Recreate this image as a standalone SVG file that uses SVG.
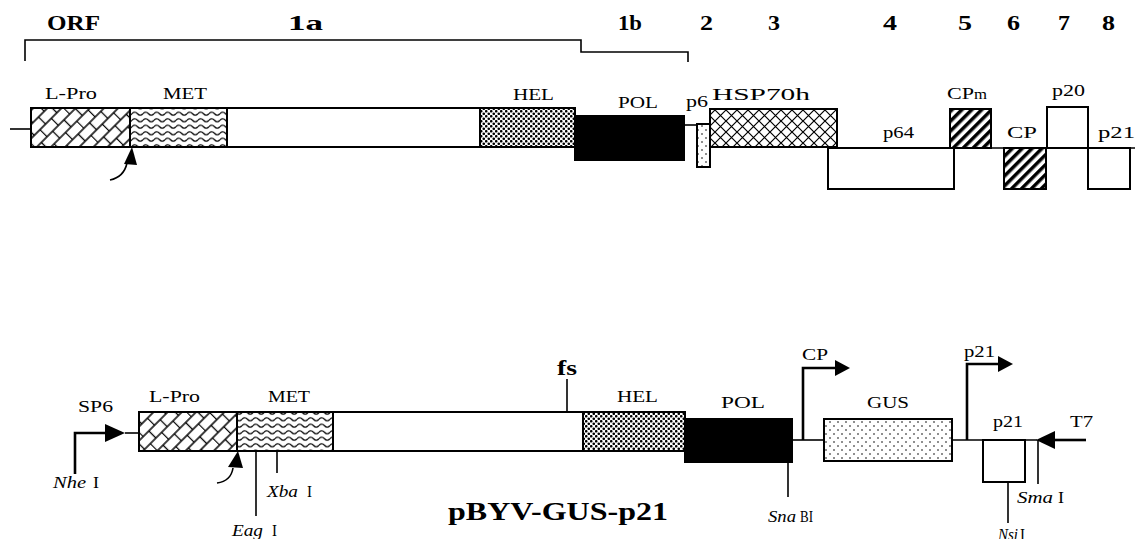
<svg xmlns="http://www.w3.org/2000/svg" width="1135" height="539" viewBox="0 0 1135 539" font-family="'Liberation Serif', 'Times New Roman', serif">
<style>
text{font-family:'Liberation Serif','Times New Roman',serif;fill:#000}
.lb{font-size:16px}
.hd{font-size:22px;font-weight:bold}
.it{font-style:italic}
.box{stroke:#000;stroke-width:2}
.ln{stroke:#000;stroke-width:1.6;fill:none}
.th{stroke:#000;stroke-width:2.6;fill:none}
</style>
<defs>
<pattern id="brick" width="16" height="20" patternUnits="userSpaceOnUse" patternTransform="rotate(-45)">
<rect width="16" height="20" fill="#fff"/>
<path d="M0 0H16M0 10H16M0 20H16M0.5 0V10M8.5 10V20" stroke="#000" stroke-width="1.3" fill="none"/>
</pattern>
<pattern id="wave" width="11" height="6.5" patternUnits="userSpaceOnUse">
<rect width="11" height="6.5" fill="#fff"/>
<path d="M0 3.25Q2.75 0.2 5.5 3.25T11 3.25" stroke="#000" stroke-width="1.3" fill="none"/>
</pattern>
<pattern id="dense" width="5" height="5" patternUnits="userSpaceOnUse">
<rect width="5" height="5" fill="#fff"/>
<circle cx="1.25" cy="1.25" r="1.3" fill="#000"/>
<circle cx="3.75" cy="3.75" r="1.3" fill="#000"/>
</pattern>
<pattern id="sparse" width="8" height="8" patternUnits="userSpaceOnUse">
<rect width="8" height="8" fill="#fff"/>
<circle cx="2" cy="2" r="0.8" fill="#000"/>
<circle cx="6" cy="6" r="0.8" fill="#000"/>
</pattern>
<pattern id="cross" width="11" height="11" patternUnits="userSpaceOnUse">
<rect width="11" height="11" fill="#fff"/>
<path d="M0 0L11 11M11 0L0 11" stroke="#000" stroke-width="1.2" fill="none"/>
</pattern>
<pattern id="stripe" width="7" height="10" patternUnits="userSpaceOnUse" patternTransform="rotate(45)">
<rect width="7" height="10" fill="#fff"/>
<rect width="3.5" height="10" fill="#000"/>
</pattern>
</defs>
<rect width="1135" height="539" fill="#fff"/>

<g id="headings">
<text class="hd" x="47" y="30" textLength="53" lengthAdjust="spacingAndGlyphs">ORF</text>
<text class="hd" x="288" y="30" textLength="35" lengthAdjust="spacingAndGlyphs">1a</text>
<text class="hd" x="618" y="30" textLength="24" lengthAdjust="spacingAndGlyphs">1b</text>
<text class="hd" x="700" y="30" textLength="13" lengthAdjust="spacingAndGlyphs">2</text>
<text class="hd" x="768" y="30" textLength="12" lengthAdjust="spacingAndGlyphs">3</text>
<text class="hd" x="883" y="30" textLength="14" lengthAdjust="spacingAndGlyphs">4</text>
<text class="hd" x="958" y="30" textLength="14" lengthAdjust="spacingAndGlyphs">5</text>
<text class="hd" x="1007" y="30" textLength="13" lengthAdjust="spacingAndGlyphs">6</text>
<text class="hd" x="1058" y="30" textLength="12" lengthAdjust="spacingAndGlyphs">7</text>
<text class="hd" x="1102" y="30" textLength="13" lengthAdjust="spacingAndGlyphs">8</text>
</g>

<g id="connectors">
<path class="ln" d="M25 61V40H581V52H688V62"/>
<path class="ln" d="M10 129H31"/>
<path class="ln" d="M684 125H697"/>
<path class="ln" d="M837 148H1135"/>
<path class="ln" d="M110 180Q124 177 127 163"/>
<polygon points="132,147 124,164 137,165" fill="#000"/>
<path class="th" d="M75 474V433H106"/>
<polygon points="105,424 125,433 105,442" fill="#000"/>
<path class="ln" d="M125 433H139"/>
<path class="ln" d="M567 379V412"/>
<path class="ln" d="M792 440H824"/>
<path class="ln" d="M952 440H1037"/>
<path class="th" d="M803 440V368H836"/>
<polygon points="835,360 850,368 835,376" fill="#000"/>
<path class="th" d="M967 440V364H999"/>
<polygon points="998,356 1013,364 998,372" fill="#000"/>
<polygon points="1036,440 1055,431 1055,449" fill="#000"/>
<path class="th" d="M1054 440H1086"/>
<path class="ln" d="M217 483Q231 481 233 468"/>
<polygon points="238,451 228,467 243,468" fill="#000"/>
<path class="ln" d="M256 451V516"/>
<path class="ln" d="M277 451V473"/>
<path class="ln" d="M788 462V497"/>
<path class="ln" d="M1008 482V523"/>
<path class="ln" d="M1038 440V484"/>
</g>

<g id="top-LPro"><rect class="box" x="31" y="108" width="99" height="39" fill="url(#brick)"/><text class="lb" x="45" y="99" textLength="52" lengthAdjust="spacingAndGlyphs">L-Pro</text></g>
<g id="top-MET"><rect class="box" x="130" y="108" width="97" height="39" fill="url(#wave)"/><text class="lb" x="163" y="99" textLength="44" lengthAdjust="spacingAndGlyphs">MET</text></g>
<g id="top-1a"><rect class="box" x="227" y="108" width="253" height="39" fill="#fff"/></g>
<g id="top-HEL"><rect class="box" x="480" y="108" width="95" height="39" fill="url(#dense)"/><text class="lb" x="513" y="100" textLength="41" lengthAdjust="spacingAndGlyphs">HEL</text></g>
<g id="top-POL"><rect class="box" x="575" y="116" width="109" height="44" fill="#000"/><text class="lb" x="618" y="108" textLength="40" lengthAdjust="spacingAndGlyphs">POL</text></g>
<g id="top-p6"><rect class="box" x="697" y="124" width="13" height="43" fill="url(#sparse)"/><text class="lb" x="686" y="107" textLength="22" lengthAdjust="spacingAndGlyphs">p6</text></g>
<g id="top-HSP70h"><rect class="box" x="710" y="109" width="127" height="38" fill="url(#cross)"/><text class="lb" x="712" y="100" textLength="98" lengthAdjust="spacingAndGlyphs">HSP70h</text></g>
<g id="top-p64"><rect class="box" x="828" y="148" width="126" height="41" fill="#fff"/><text class="lb" x="883" y="138" textLength="31" lengthAdjust="spacingAndGlyphs">p64</text></g>
<g id="top-CPm"><rect class="box" x="950" y="109" width="41" height="39" fill="url(#stripe)"/><text class="lb" x="947" y="99" textLength="27" lengthAdjust="spacingAndGlyphs">CP</text><text x="974" y="99" style="font-size:14px" textLength="13" lengthAdjust="spacingAndGlyphs">m</text></g>
<g id="top-CP"><rect class="box" x="1004" y="148" width="42" height="41" fill="url(#stripe)"/><text class="lb" x="1007" y="138" textLength="30" lengthAdjust="spacingAndGlyphs">CP</text></g>
<g id="top-p20"><rect class="box" x="1047" y="107" width="41" height="41" fill="#fff"/><text class="lb" x="1052" y="96" textLength="33" lengthAdjust="spacingAndGlyphs">p20</text></g>
<g id="top-p21"><rect class="box" x="1088" y="148" width="42" height="41" fill="#fff"/><text class="lb" x="1098" y="138" textLength="37" lengthAdjust="spacingAndGlyphs">p21</text></g>

<g id="bot-SP6"><text class="lb" x="78" y="412" textLength="35" lengthAdjust="spacingAndGlyphs">SP6</text></g>
<g id="bot-NheI"><text class="lb it" x="53" y="488" textLength="33" lengthAdjust="spacingAndGlyphs">Nhe</text><text class="lb" x="93" y="488" textLength="6" lengthAdjust="spacingAndGlyphs">I</text></g>
<g id="bot-LPro"><rect class="box" x="139" y="412" width="98" height="39" fill="url(#brick)"/><text class="lb" x="149" y="402" textLength="51" lengthAdjust="spacingAndGlyphs">L-Pro</text></g>
<g id="bot-MET"><rect class="box" x="237" y="412" width="96" height="39" fill="url(#wave)"/><text class="lb" x="268" y="402" textLength="42" lengthAdjust="spacingAndGlyphs">MET</text></g>
<g id="bot-1a"><rect class="box" x="333" y="412" width="250" height="39" fill="#fff"/></g>
<g id="bot-fs"><text class="hd" x="557" y="375" textLength="20" lengthAdjust="spacingAndGlyphs">fs</text></g>
<g id="bot-HEL"><rect class="box" x="583" y="412" width="102" height="39" fill="url(#dense)"/><text class="lb" x="617" y="402" textLength="41" lengthAdjust="spacingAndGlyphs">HEL</text></g>
<g id="bot-POL"><rect class="box" x="685" y="419" width="107" height="43" fill="#000"/><text class="lb" x="721" y="408" textLength="44" lengthAdjust="spacingAndGlyphs">POL</text></g>
<g id="bot-CPprom"><text class="lb" x="802" y="360" textLength="26" lengthAdjust="spacingAndGlyphs">CP</text></g>
<g id="bot-GUS"><rect class="box" x="824" y="419" width="128" height="42" fill="url(#sparse)"/><text class="lb" x="867" y="408" textLength="42" lengthAdjust="spacingAndGlyphs">GUS</text></g>
<g id="bot-p21prom"><text class="lb" x="964" y="357" textLength="31" lengthAdjust="spacingAndGlyphs">p21</text></g>
<g id="bot-p21"><rect class="box" x="983" y="440" width="42" height="42" fill="#fff"/><text class="lb" x="993" y="427" textLength="30" lengthAdjust="spacingAndGlyphs">p21</text></g>
<g id="bot-T7"><text class="lb" x="1070" y="427" textLength="23" lengthAdjust="spacingAndGlyphs">T7</text></g>
<g id="bot-XbaI"><text class="lb it" x="267" y="497" textLength="31" lengthAdjust="spacingAndGlyphs">Xba</text><text class="lb" x="307" y="497" textLength="5" lengthAdjust="spacingAndGlyphs">I</text></g>
<g id="bot-EagI"><text class="lb it" x="232" y="536" textLength="31" lengthAdjust="spacingAndGlyphs">Eag</text><text class="lb" x="272" y="536" textLength="5" lengthAdjust="spacingAndGlyphs">I</text></g>
<g id="bot-SnaBI"><text class="lb it" x="768" y="522" textLength="28" lengthAdjust="spacingAndGlyphs">Sna</text><text class="lb" x="800" y="522" textLength="13" lengthAdjust="spacingAndGlyphs">BI</text></g>
<g id="bot-SmaI"><text class="lb it" x="1017" y="503" textLength="36" lengthAdjust="spacingAndGlyphs">Sma</text><text class="lb" x="1058" y="503" textLength="6" lengthAdjust="spacingAndGlyphs">I</text></g>
<g id="bot-NsiI"><text class="lb it" x="998" y="540" textLength="20" lengthAdjust="spacingAndGlyphs">Nsi</text><text class="lb" x="1020" y="540" textLength="5" lengthAdjust="spacingAndGlyphs">I</text></g>
<g id="title"><text x="448" y="520" style="font-size:26px;font-weight:bold" textLength="220" lengthAdjust="spacingAndGlyphs">pBYV-GUS-p21</text></g>
</svg>
